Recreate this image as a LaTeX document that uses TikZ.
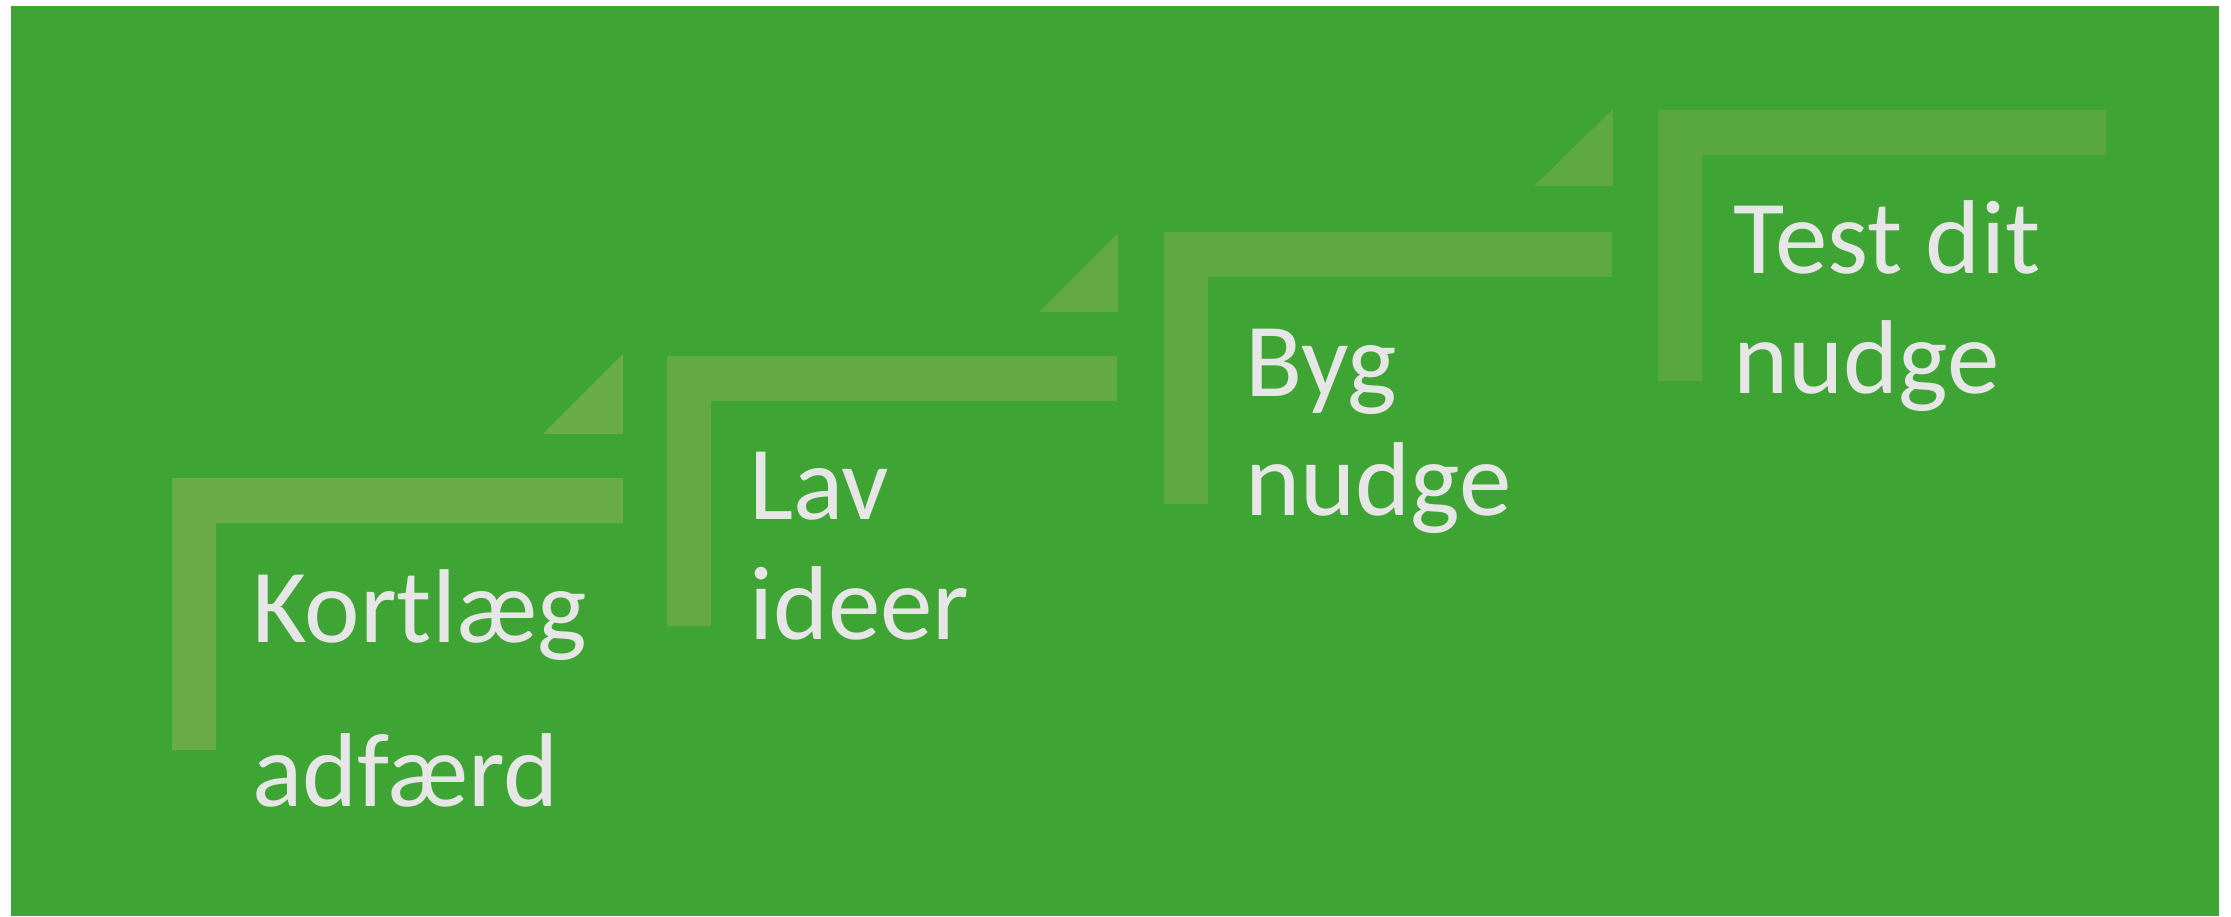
\documentclass[tikz,border=0pt]{standalone}
\usepackage{fontspec}
\setmainfont{Carlito}
\definecolor{bg}{RGB}{62,164,51}
\definecolor{stepA}{RGB}{106,172,72}
\definecolor{stepB}{RGB}{100,170,68}
\definecolor{stepC}{RGB}{95,169,66}
\definecolor{stepD}{RGB}{89,168,63}
\definecolor{txt}{RGB}{230,230,230}
\tikzset{
  lbl/.style={anchor=base west, inner sep=0pt, text=txt, font=\fontsize{105}{120}\selectfont},
}
\newcommand{\stepshape}[4]{%
  % #1 left x, #2 top y, #3 right x, #4 bottom y
  \fill (#1,#2) -- (#3,#2) -- (#3,#2+45) -- (#1+44,#2+45) -- (#1+44,#4) -- (#1,#4) -- cycle;
}
\begin{document}
\begin{tikzpicture}[x=1pt,y=-1pt]
\useasboundingbox (0,0) rectangle (2231,916);
\fill[white] (0,0) rectangle (2231,916);
\fill[bg] (11,6) rectangle (2219,916);
% step 1
\begin{scope}[stepA]
\stepshape{172}{478}{623}{750}
\fill (543,434) -- (623,434) -- (623,354) -- cycle;
\end{scope}
% step 2
\begin{scope}[stepB]
\stepshape{667}{356}{1117}{626}
\fill (1039,312) -- (1118,312) -- (1118,233) -- cycle;
\end{scope}
% step 3
\begin{scope}[stepC]
\stepshape{1164}{232}{1612}{504}
\fill (1534,186) -- (1613,186) -- (1613,109) -- cycle;
\end{scope}
% step 4
\begin{scope}[stepD]
\stepshape{1658}{110}{2106}{381}
\end{scope}
% labels
\node[lbl] (k1) at (252,642) {Kortlæg};
\node[lbl] (k2) at (252,806) {adfærd};
\node[lbl] (l1) at (749,519) {Lav};
\node[lbl] (l2) at (749,639) {ideer};
\node[lbl] (b1) at (1245,396) {Byg};
\node[lbl] (b2) at (1245,515) {nudge};
\node[lbl] (t1) at (1733,273) {Test dit};
\node[lbl] (t2) at (1733,393) {nudge};
\end{tikzpicture}
\end{document}
